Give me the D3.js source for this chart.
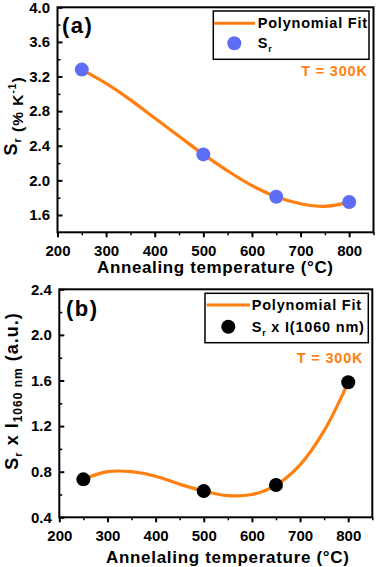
<!DOCTYPE html>
<html><head><meta charset="utf-8">
<script src="https://cdn.jsdelivr.net/npm/d3@7"></script>
<style>
html,body{margin:0;padding:0;background:#fff;}
svg{display:block;}
text{font-family:"Liberation Sans",Arial,sans-serif;font-weight:bold;}
</style></head>
<body>
<svg id="c" width="380" height="567"></svg>
<script>
// ---- data ----
const temps = [250, 500, 650, 800];
const srValues = [3.28, 2.30, 1.81, 1.75];
const fitTempsA = [250, 300, 350, 400, 450, 500, 550, 600, 650, 700, 750, 800];
const fitValuesA = [3.28, 3.12, 2.93, 2.72, 2.51, 2.30, 2.11, 1.94, 1.81, 1.73, 1.70, 1.75];
const srIValues = [0.733, 0.63, 0.683, 1.584];
const fitTempsB = [250, 300, 350, 400, 450, 500, 550, 600, 650, 700, 750, 800];
const fitValuesB = [0.733, 0.80, 0.80, 0.76, 0.69, 0.63, 0.59, 0.60, 0.683, 0.86, 1.16, 1.584];
const xTicks = [200, 300, 400, 500, 600, 700, 800];
const yTicksA = [1.6, 2.0, 2.4, 2.8, 3.2, 3.6, 4.0];
const yTicksB = [0.4, 0.8, 1.2, 1.6, 2.0, 2.4];

const ORANGE = "#FF7F0F", BLUE = "#5D6DF4";
const svg = d3.select("#c");

function panel(cfg) {
  const g = svg.append("g");
  const x = d3.scaleLinear().domain([200, 850]).range([cfg.x0, cfg.x1]);
  const y = d3.scaleLinear().domain(cfg.ydom).range([cfg.y1, cfg.y0]);
  g.append("rect").attr("x", cfg.x0).attr("y", cfg.y0)
    .attr("width", cfg.x1 - cfg.x0).attr("height", cfg.y1 - cfg.y0)
    .attr("fill", "none").attr("stroke", "#000").attr("stroke-width", 2);
  // x axis
  const xa = g.append("g").attr("transform", `translate(0,${cfg.y1})`)
    .call(d3.axisBottom(x).tickValues(xTicks).tickSize(5).tickPadding(8).tickFormat(d3.format("d")));
  xa.select(".domain").remove();
  xa.selectAll("line").attr("stroke-width", 2);
  xa.selectAll("text").attr("font-size", 15).attr("fill", "#000").attr("font-family", "Liberation Sans, Arial").attr("font-weight", "bold");
  const xm = g.append("g").attr("transform", `translate(0,${cfg.y1})`)
    .call(d3.axisBottom(x).tickValues(xTicks.map(v => v + 50)).tickSize(3).tickFormat(""));
  xm.select(".domain").remove();
  xm.selectAll("line").attr("stroke-width", 1.5);
  // y axis
  const ya = g.append("g").attr("transform", `translate(${cfg.x0},0)`)
    .call(d3.axisLeft(y).tickValues(cfg.yticks).tickSize(-5).tickPadding(7.5).tickFormat(d3.format(".1f")));
  ya.select(".domain").remove();
  ya.selectAll("line").attr("stroke-width", 2);
  ya.selectAll("text").attr("font-size", 15).attr("fill", "#000").attr("font-family", "Liberation Sans, Arial").attr("font-weight", "bold");
  const ym = g.append("g").attr("transform", `translate(${cfg.x0},0)`)
    .call(d3.axisLeft(y).tickValues(cfg.yticks.slice(0, -1).map(v => v + 0.2)).tickSize(-3).tickFormat(""));
  ym.select(".domain").remove();
  ym.selectAll("line").attr("stroke-width", 1.5);
  // fit curve
  const line = d3.line().x(d => x(d[0])).y(d => y(d[1])).curve(d3.curveCatmullRom.alpha(0.5));
  g.append("path").datum(cfg.fitX.map((t, i) => [t, cfg.fitY[i]]))
    .attr("d", line).attr("fill", "none").attr("stroke", ORANGE).attr("stroke-width", 3.2);
  // points
  g.selectAll("circle.pt").data(temps.map((t, i) => [t, cfg.pts[i]])).enter()
    .append("circle").attr("class", "pt").attr("cx", d => x(d[0])).attr("cy", d => y(d[1]))
    .attr("r", 7).attr("fill", cfg.ptColor);
  // panel label
  g.append("text").attr("x", cfg.labX).attr("y", cfg.labY).attr("font-size", 22)
    .attr("letter-spacing", 1.5).text(cfg.label);
  // legend
  const L = cfg.leg;
  g.append("rect").attr("x", L.x).attr("y", L.y).attr("width", L.w).attr("height", L.h)
    .attr("fill", "#fff").attr("stroke", "#000").attr("stroke-width", 1.5);
  g.append("line").attr("x1", L.lx0).attr("x2", L.lx1).attr("y1", L.ly).attr("y2", L.ly)
    .attr("stroke", ORANGE).attr("stroke-width", 3);
  g.append("text").attr("x", L.tx).attr("y", L.ly + 5).attr("font-size", 14.5)
    .attr("letter-spacing", 0.8).text("Polynomial Fit");
  g.append("circle").attr("cx", L.mx).attr("cy", L.my).attr("r", 7).attr("fill", cfg.ptColor);
  const t2 = g.append("text").attr("x", L.tx).attr("y", L.my + 5).attr("font-size", 14.5).attr("letter-spacing", 0.8);
  t2.append("tspan").text("S");
  t2.append("tspan").attr("dy", 4).attr("font-size", 9).text("r");
  if (cfg.legExtra) t2.append("tspan").attr("dy", -4).text(cfg.legExtra);
  // T label
  g.append("text").attr("x", cfg.tX).attr("y", cfg.tY).attr("text-anchor", "end")
    .attr("font-size", 14.5).attr("letter-spacing", 0.8).attr("fill", ORANGE).text("T = 300K");
  // x label
  g.append("text").attr("x", cfg.xlabX).attr("y", cfg.xlabY).attr("text-anchor", "middle")
    .attr("font-size", 17).attr("textLength", cfg.xlabW).attr("lengthAdjust", "spacing").text(cfg.xlab);
  return g;
}

panel({
  x0: 57.5, x1: 373.5, y0: 7.3, y1: 232.3, ydom: [1.4, 4.0], yticks: yTicksA,
  fitX: fitTempsA, fitY: fitValuesA, pts: srValues, ptColor: BLUE,
  label: "(a)", labX: 62, labY: 33,
  leg: {x: 213.3, y: 11, w: 155.7, h: 48.3, lx0: 214, lx1: 255, ly: 23.3, tx: 257.7, mx: 234.3, my: 43.3},
  tX: 367.7, tY: 76, xlabX: 215, xlabY: 272.5, xlabW: 236, xlab: "Annealing temperature (\u00B0C)"
});
// y label a
const yla = svg.append("text").attr("transform", "translate(17,116) rotate(-90)").attr("text-anchor", "middle").attr("font-size", 18).attr("letter-spacing", 1);
yla.append("tspan").text("S");
yla.append("tspan").attr("dy", 4).attr("font-size", 11).text("r");
yla.append("tspan").attr("dy", 2).attr("font-size", 15.5).text(" (% K");
yla.append("tspan").attr("dy", -7).attr("font-size", 10).text("-1");
yla.append("tspan").attr("dy", 7).attr("font-size", 15.5).text(")");

panel({
  x0: 59.3, x1: 372.3, y0: 289.3, y1: 517.3, ydom: [0.4, 2.4], yticks: yTicksB,
  fitX: fitTempsB, fitY: fitValuesB, pts: srIValues, ptColor: "#000",
  label: "(b)", labX: 66, labY: 316,
  leg: {x: 205, y: 293.3, w: 163.3, h: 49.4, lx0: 206.7, lx1: 250, ly: 305, tx: 251.7, mx: 228.3, my: 326.7},
  legExtra: " x I(1060 nm)",
  tX: 363.3, tY: 362.5, xlabX: 227.5, xlabY: 563, xlabW: 243, xlab: "Annelaling temperature (\u00B0C)"
});
// y label b
const ylb = svg.append("text").attr("transform", "translate(18,391) rotate(-90)").attr("text-anchor", "middle").attr("font-size", 18).attr("letter-spacing", 1);
ylb.append("tspan").text("S");
ylb.append("tspan").attr("dy", 4).attr("font-size", 11).text("r");
ylb.append("tspan").attr("dy", -4).text(" x I");
ylb.append("tspan").attr("dy", 4).attr("font-size", 12).text("1060 nm");
ylb.append("tspan").attr("dy", -4).text(" (a.u.)");
</script>
</body></html>
